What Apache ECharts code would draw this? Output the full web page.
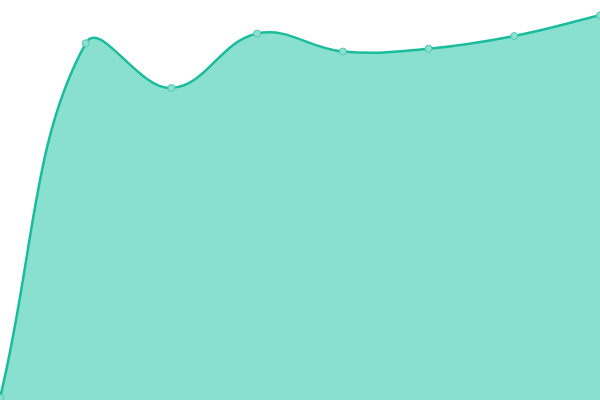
<!DOCTYPE html>
<html><head><meta charset="utf-8">
<script src="https://cdn.jsdelivr.net/npm/echarts@6/dist/echarts.min.js"></script>
<style>html,body{margin:0;padding:0;background:#fff}#c{width:600px;height:400px}</style>
</head><body><div id="c"></div>
<script>
const categories = ['1','2','3','4','5','6','7','8'];
const values = [2, 356.7, 312, 366.5, 348.5, 351.3, 364, 384.7];

// Tension spline shape (cardinal-style bezier, control points capped to the plot area)
const SmoothPath = echarts.graphic.extendShape({
  shape: {points: [], tension: 0.4, baseY: 0, closed: false, box: null},
  buildPath(ctx, shape) {
    const pts = shape.points, t = shape.tension, box = shape.box;
    const n = pts.length;
    if (!n) return;
    const cps = pts.map((cur, i) => {
      const prev = pts[i - 1] || cur, next = pts[i + 1] || cur;
      const d01 = Math.hypot(cur[0] - prev[0], cur[1] - prev[1]);
      const d12 = Math.hypot(next[0] - cur[0], next[1] - cur[1]);
      let s01 = d01 / (d01 + d12), s12 = d12 / (d01 + d12);
      if (!isFinite(s01)) s01 = 0;
      if (!isFinite(s12)) s12 = 0;
      const fa = t * s01, fb = t * s12;
      const vx = next[0] - prev[0], vy = next[1] - prev[1];
      let a = [cur[0] - fa * vx, cur[1] - fa * vy];
      let b = [cur[0] + fb * vx, cur[1] + fb * vy];
      if (box) {
        const cap = c => [Math.min(Math.max(c[0], box.x), box.x + box.width), Math.min(Math.max(c[1], box.y), box.y + box.height)];
        a = cap(a); b = cap(b);
      }
      return {prev: a, next: b};
    });
    ctx.moveTo(pts[0][0], pts[0][1]);
    for (let i = 1; i < n; i++) {
      const c0 = cps[i - 1].next, c1 = cps[i].prev;
      ctx.bezierCurveTo(c0[0], c0[1], c1[0], c1[1], pts[i][0], pts[i][1]);
    }
    if (shape.closed) {
      ctx.lineTo(pts[n - 1][0], shape.baseY);
      ctx.lineTo(pts[0][0], shape.baseY);
      ctx.closePath();
    }
  }
});
echarts.graphic.registerShape('smoothPath', SmoothPath);

const chart = echarts.init(document.getElementById('c'));
chart.setOption({
  animation: false,
  grid: {left: 0, right: 0, top: 0, bottom: 0},
  xAxis: {type: 'category', data: categories, boundaryGap: false, show: false},
  yAxis: {type: 'value', min: 0, max: 400, show: false},
  series: [{
    type: 'custom',
    data: values.map((v, i) => [i, v]),
    clip: false,
    z: 1,
    renderItem(params, api) {
      if (params.dataIndex !== 0) return null;
      const pts = values.map((v, i) => api.coord([i, v]));
      const baseY = api.coord([0, 0])[1];
      const box = {x: params.coordSys.x, y: params.coordSys.y, width: params.coordSys.width, height: params.coordSys.height};
      return {
        type: 'group',
        children: [
          {type: 'smoothPath', shape: {points: pts, tension: 0.4, baseY: baseY, closed: true, box: box},
           style: {fill: '#8ae0cf', stroke: null}},
          {type: 'smoothPath', shape: {points: pts, tension: 0.4, closed: false, box: box},
           style: {fill: null, stroke: '#1abc9c', lineWidth: 2.5}}
        ]
      };
    }
  }, {
    type: 'line',
    data: values,
    z: 3,
    symbol: 'circle',
    symbolSize: 7,
    lineStyle: {opacity: 0},
    itemStyle: {color: '#8de0cf', borderColor: '#4fcbb0', borderWidth: 1}
  }]
});
</script></body></html>
